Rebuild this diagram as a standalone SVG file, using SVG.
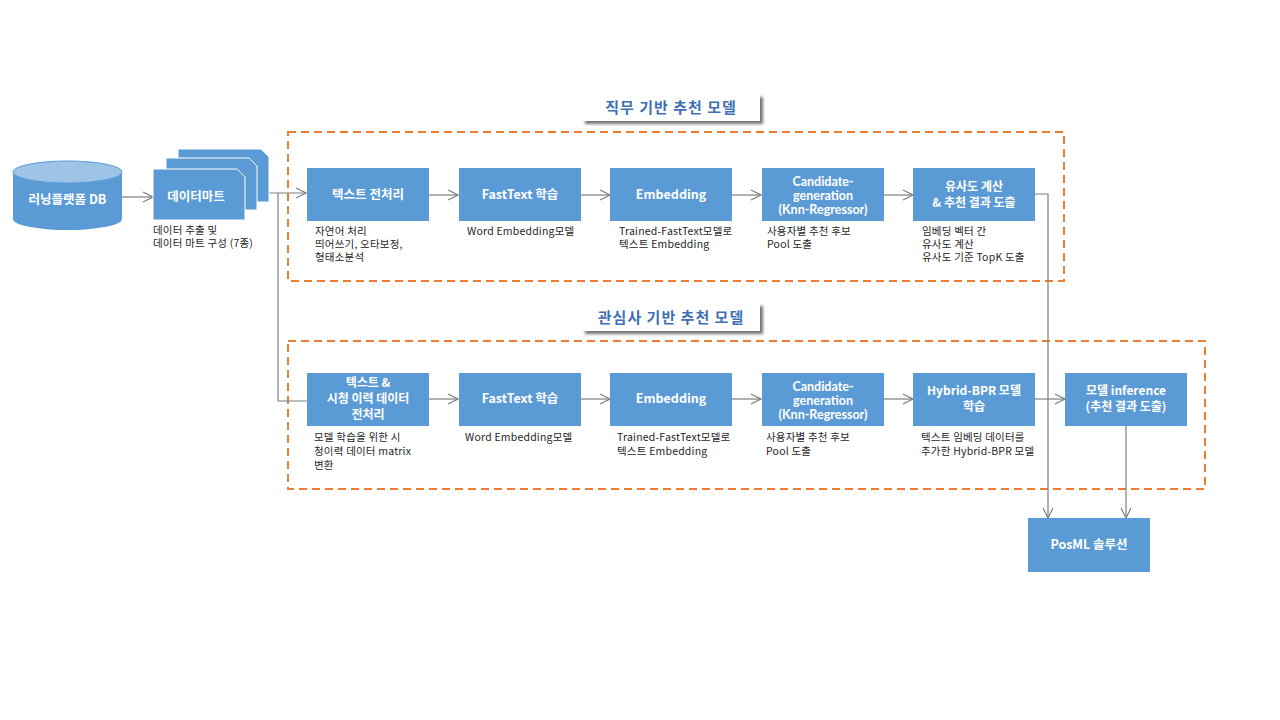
<svg xmlns="http://www.w3.org/2000/svg" width="1280" height="720" viewBox="0 0 1280 720">
  <defs>
    <marker id="arrow" viewBox="0 0 12 12" refX="11" refY="6" markerWidth="12" markerHeight="12" markerUnits="userSpaceOnUse" orient="auto">
      <path d="M1,1 L11,6 L1,11" fill="none" stroke="#7f7f7f" stroke-width="1.2"/>
    </marker>
    <filter id="shadow" x="-10%" y="-30%" width="125%" height="180%">
      <feGaussianBlur in="SourceAlpha" stdDeviation="1.8"/>
      <feOffset dx="3" dy="3" result="off"/>
      <feComponentTransfer><feFuncA type="linear" slope="0.55"/></feComponentTransfer>
      <feMerge><feMergeNode/><feMergeNode in="SourceGraphic"/></feMerge>
    </filter>
    <style>
      text { font-family: "Noto Sans CJK KR", "Noto Sans", sans-serif; }
      .box { fill: #5b9bd5; }
      .btxt { fill: #ffffff; font-size: 12.5px; font-weight: bold; text-anchor: middle; }
      .multi { font-size: 12px; }
      .latin { font-family: Lato, "Open Sans", sans-serif; font-size: 12.5px; }
      .note { fill: #262626; font-size: 10.5px; letter-spacing: 0.2px; }
      .group { fill: none; stroke: #ed7d31; stroke-width: 2; stroke-dasharray: 8 5; }
      .title { fill: #ffffff; }
      .ttxt { fill: #3f6fb5; font-size: 15px; font-weight: bold; text-anchor: middle; letter-spacing: 1px; }
      .conn { fill: none; stroke: #7f7f7f; stroke-width: 1.2; }
      .arr { marker-end: url(#arrow); }
    </style>
  </defs>

  <rect width="1280" height="720" fill="#ffffff"/>

  <!-- model groups -->
  <g id="group-job">
    <rect class="group" x="288" y="132" width="776" height="149"/>
    <rect class="title" x="582" y="94" width="178" height="27" filter="url(#shadow)"/>
    <text class="ttxt" x="671" y="113">직무 기반 추천 모델</text>
  </g>
  <g id="group-interest">
    <rect class="group" x="288" y="341" width="917" height="148"/>
    <rect class="title" x="582" y="303" width="178" height="28" filter="url(#shadow)"/>
    <text class="ttxt" x="671" y="323">관심사 기반 추천 모델</text>
  </g>

  <!-- connectors -->
  <g id="connectors">
    <line class="conn arr" x1="122" y1="197" x2="153" y2="197"/>
    <line class="conn arr" x1="269" y1="193" x2="306" y2="193"/>
    <polyline class="conn" points="278,193 278,401 307,401"/>
    <line class="conn arr" x1="429" y1="195" x2="458" y2="195"/>
    <line class="conn arr" x1="581" y1="195" x2="610" y2="195"/>
    <line class="conn arr" x1="732" y1="195" x2="761" y2="195"/>
    <line class="conn arr" x1="884" y1="195" x2="913" y2="195"/>
    <polyline class="conn arr" points="1035,194 1048,194 1048,518"/>
    <line class="conn arr" x1="429" y1="399" x2="458" y2="399"/>
    <line class="conn arr" x1="581" y1="399" x2="610" y2="399"/>
    <line class="conn arr" x1="732" y1="399" x2="761" y2="399"/>
    <line class="conn arr" x1="884" y1="399" x2="913" y2="399"/>
    <line class="conn arr" x1="1035" y1="399" x2="1065" y2="399"/>
    <line class="conn arr" x1="1126" y1="426" x2="1126" y2="518"/>
  </g>

  <!-- source database -->
  <g id="node-db">
    <path class="box" d="M13,172 L13,219 A54.5,11 0 0 0 122,219 L122,172 Z"/>
    <ellipse cx="67.5" cy="172" rx="54.5" ry="11" fill="#9dc3e6" stroke="#5b9bd5" stroke-width="1"/>
    <text class="btxt" x="67.5" y="204">러닝플랫폼 DB</text>
  </g>

  <!-- data mart stack -->
  <g id="node-datamart">
    <path class="box" d="M178,149 L261,149 L269,157 L269,202 L178,202 Z" stroke="#ffffff" stroke-width="1"/>
    <path class="box" d="M166,158 L249,158 L257,166 L257,210 L166,210 Z" stroke="#ffffff" stroke-width="1"/>
    <path class="box" d="M153,169 L237,169 L245,177 L245,220 L153,220 Z" stroke="#ffffff" stroke-width="1"/>
    <text class="btxt" x="196" y="201">데이터마트</text>
    <text class="note" x="153" y="234">데이터 추출 및</text>
    <text class="note" x="153" y="247">데이터 마트 구성 (7종)</text>
  </g>

  <!-- job-based row -->
  <g id="node-job-preprocess">
    <rect class="box" x="307" y="168" width="122" height="53"/>
    <text class="btxt" x="368" y="199">텍스트 전처리</text>
    <text class="note" x="315" y="235">자연어 처리</text>
    <text class="note" x="315" y="248">띄어쓰기, 오타보정,</text>
    <text class="note" x="315" y="261">형태소분석</text>
  </g>
  <g id="node-job-fasttext">
    <rect class="box" x="459" y="168" width="122" height="53"/>
    <text class="btxt" x="520" y="199">FastText 학습</text>
    <text class="note" x="467" y="235">Word Embedding모델</text>
  </g>
  <g id="node-job-embedding">
    <rect class="box" x="610" y="168" width="122" height="53"/>
    <text class="btxt" x="671" y="199">Embedding</text>
    <text class="note" x="619" y="235">Trained-FastText모델로</text>
    <text class="note" x="619" y="248">텍스트 Embedding</text>
  </g>
  <g id="node-job-candidate">
    <rect class="box" x="762" y="168" width="122" height="53"/>
    <text class="btxt latin" x="823" y="186">Candidate-</text>
    <text class="btxt latin" x="823" y="200">generation</text>
    <text class="btxt latin" x="823" y="214">(Knn-Regressor)</text>
    <text class="note" x="767" y="235">사용자별 추천 후보</text>
    <text class="note" x="767" y="248">Pool 도출</text>
  </g>
  <g id="node-job-similarity">
    <rect class="box" x="913" y="168" width="122" height="53"/>
    <text class="btxt multi" x="974" y="191">유사도 계산</text>
    <text class="btxt multi" x="974" y="207">&amp; 추천 결과 도출</text>
    <text class="note" x="922" y="235">임베딩 벡터 간</text>
    <text class="note" x="922" y="248">유사도 계산</text>
    <text class="note" x="922" y="261">유사도 기준 TopK 도출</text>
  </g>

  <!-- interest-based row -->
  <g id="node-int-preprocess">
    <rect class="box" x="307" y="373" width="122" height="53"/>
    <text class="btxt multi" x="368" y="387">텍스트 &amp;</text>
    <text class="btxt multi" x="368" y="403">시청 이력 데이터</text>
    <text class="btxt multi" x="368" y="419">전처리</text>
    <text class="note" x="314" y="441">모델 학습을 위한 시</text>
    <text class="note" x="314" y="455">청이력 데이터 matrix</text>
    <text class="note" x="314" y="469">변환</text>
  </g>
  <g id="node-int-fasttext">
    <rect class="box" x="459" y="373" width="122" height="53"/>
    <text class="btxt" x="520" y="403">FastText 학습</text>
    <text class="note" x="465" y="441">Word Embedding모델</text>
  </g>
  <g id="node-int-embedding">
    <rect class="box" x="610" y="373" width="122" height="53"/>
    <text class="btxt" x="671" y="403">Embedding</text>
    <text class="note" x="617" y="441">Trained-FastText모델로</text>
    <text class="note" x="617" y="455">텍스트 Embedding</text>
  </g>
  <g id="node-int-candidate">
    <rect class="box" x="762" y="373" width="122" height="53"/>
    <text class="btxt latin" x="823" y="391">Candidate-</text>
    <text class="btxt latin" x="823" y="405">generation</text>
    <text class="btxt latin" x="823" y="419">(Knn-Regressor)</text>
    <text class="note" x="766" y="441">사용자별 추천 후보</text>
    <text class="note" x="766" y="455">Pool 도출</text>
  </g>
  <g id="node-int-hybrid">
    <rect class="box" x="913" y="373" width="122" height="53"/>
    <text class="btxt multi" x="974" y="395">Hybrid-BPR 모델</text>
    <text class="btxt multi" x="974" y="411">학습</text>
    <text class="note" x="921" y="441">텍스트 임베딩 데이터를</text>
    <text class="note" x="921" y="455">추가한 Hybrid-BPR 모델</text>
  </g>
  <g id="node-int-inference">
    <rect class="box" x="1065" y="373" width="122" height="53"/>
    <text class="btxt multi" x="1126" y="395">모델 inference</text>
    <text class="btxt multi" x="1126" y="411">(추천 결과 도출)</text>
  </g>

  <!-- serving target -->
  <g id="node-posml">
    <rect class="box" x="1028" y="518" width="122" height="54"/>
    <text class="btxt" x="1089" y="549">PosML 솔루션</text>
  </g>
</svg>
